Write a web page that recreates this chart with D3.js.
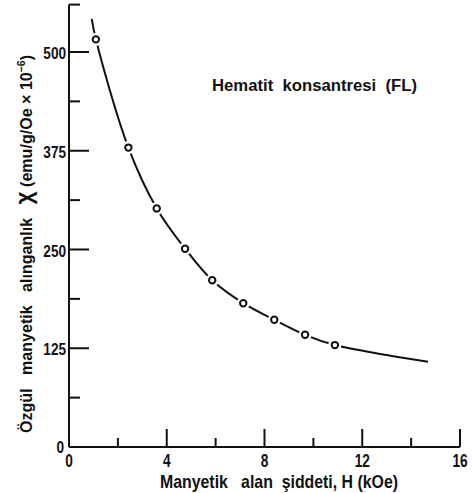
<!DOCTYPE html>
<html><head><meta charset="utf-8">
<script src="https://cdn.jsdelivr.net/npm/d3@7"></script>
<style>
html,body{margin:0;padding:0;background:#fff;}
text{font-family:"Liberation Sans",Arial,sans-serif;font-weight:bold;fill:#111;white-space:pre;}
</style></head>
<body>
<svg id="c" width="472" height="493"></svg>
<script>
// Data
const fieldH = [1.10, 2.43, 3.59, 4.75, 5.86, 7.13, 8.40, 9.66, 10.88];          // kOe
const chi    = [516, 379, 302, 251, 211, 182, 161, 142, 129];                   // emu/g/Oe x 10^-6
const fitH   = [0.93, 1.10, 2.43, 3.59, 4.75, 5.86, 7.13, 8.40, 9.66, 10.88, 13.0, 14.69];
const fitChi = [542, 516, 379, 302, 251, 211, 182, 161, 142, 129, 116.5, 108];
const xMajor = [4, 8, 12, 16];
const xMinor = [2, 6, 10, 14];
const xLabels = [0, 4, 8, 12, 16];
const yMajor = [125, 250, 375, 500];
const yMinor = [62.5, 187.5, 312.5, 437.5, 560];
const yLabels = [0, 125, 250, 375, 500];

const svg = d3.select("#c");
const x = d3.scaleLinear().domain([0, 16]).range([69, 460]);
const y = d3.scaleLinear().domain([0, 560]).range([447, 4.6]);

const ink = "#111";
// axes lines
svg.append("line").attr("x1", x(0)).attr("x2", x(0)).attr("y1", y(0)).attr("y2", y(560))
  .attr("stroke", ink).attr("stroke-width", 2);
svg.append("line").attr("x1", x(0)).attr("x2", x(16)).attr("y1", y(0)).attr("y2", y(0))
  .attr("stroke", ink).attr("stroke-width", 2);

// y ticks (inward)
svg.selectAll(".ymaj").data(yMajor).join("line")
  .attr("x1", x(0)).attr("x2", x(0) + 20).attr("y1", d => y(d)).attr("y2", d => y(d))
  .attr("stroke", ink).attr("stroke-width", 2);
svg.selectAll(".ymin").data(yMinor).join("line")
  .attr("x1", x(0)).attr("x2", x(0) + 11).attr("y1", d => y(d)).attr("y2", d => y(d))
  .attr("stroke", ink).attr("stroke-width", 2);
// x ticks (inward)
svg.selectAll(".xmaj").data(xMajor).join("line")
  .attr("x1", d => x(d)).attr("x2", d => x(d)).attr("y1", y(0)).attr("y2", y(0) - 18)
  .attr("stroke", ink).attr("stroke-width", 2);
svg.selectAll(".xmin").data(xMinor).join("line")
  .attr("x1", d => x(d)).attr("x2", d => x(d)).attr("y1", y(0)).attr("y2", y(0) - 9)
  .attr("stroke", ink).attr("stroke-width", 2);

// tick labels
svg.selectAll(".yl").data(yLabels).join("g")
  .attr("transform", d => `translate(${x(0) - (d === 0 ? 5 : 3)},${y(d) + (d === 0 ? 5.5 : 7)})`)
  .append("text").attr("text-anchor", "end").attr("font-size", 17)
  .attr("transform", "scale(0.8,1)").text(d => d);
svg.selectAll(".xl").data(xLabels).join("g")
  .attr("transform", d => `translate(${x(d)},${y(0) + 20})`)
  .append("text").attr("text-anchor", "middle").attr("font-size", 19)
  .attr("transform", "scale(0.72,1)").text(d => d);

// fitted curve
const line = d3.line().x((d, i) => x(fitH[i])).y(d => y(d)).curve(d3.curveCatmullRom.alpha(0.5));
svg.append("path").attr("d", line(fitChi)).attr("fill", "none")
  .attr("stroke", ink).attr("stroke-width", 2);

// points: white halo to break the line, then the open circle
svg.selectAll(".halo").data(chi).join("circle")
  .attr("cx", (d, i) => x(fieldH[i])).attr("cy", d => y(d)).attr("r", 6.5).attr("fill", "#fff");
svg.selectAll(".pt").data(chi).join("circle")
  .attr("cx", (d, i) => x(fieldH[i])).attr("cy", d => y(d)).attr("r", 3.2)
  .attr("fill", "#fff").attr("stroke", ink).attr("stroke-width", 2);

// annotation
svg.append("text").attr("x", 212).attr("y", 91).attr("font-size", 16)
  .attr("textLength", 205).attr("lengthAdjust", "spacingAndGlyphs")
  .text("Hematit  konsantresi  (FL)");

// x axis title
svg.append("text").attr("x", 160).attr("y", 488).attr("font-size", 19)
  .attr("textLength", 238).attr("lengthAdjust", "spacingAndGlyphs")
  .text("Manyetik   alan  şiddeti, H (kOe)");

// y axis title (rotated)
const yt = svg.append("text").attr("transform", "translate(32,433) rotate(-90)")
  .attr("font-size", 17).attr("textLength", 378).attr("lengthAdjust", "spacingAndGlyphs");
yt.append("tspan").text("Özgül   manyetik   alınganlık   ");
yt.append("tspan").attr("font-size", 24).text("χ");
yt.append("tspan").text(" (emu/g/Oe × 10");
yt.append("tspan").attr("font-size", 11).attr("dy", -7).text("−6");
yt.append("tspan").attr("dy", 7).text(")");
</script>
</body></html>
